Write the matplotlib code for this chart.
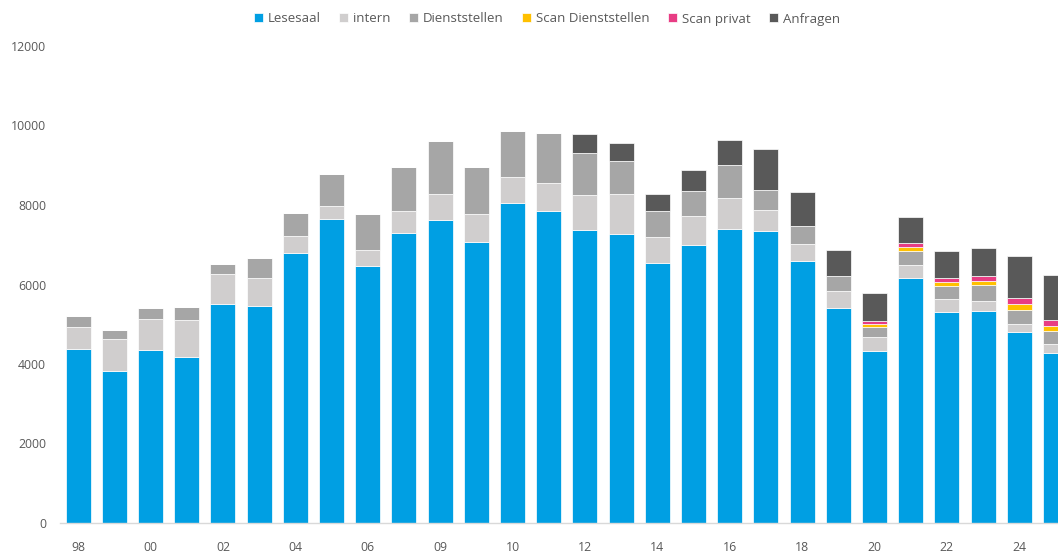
import matplotlib
matplotlib.use("Agg")
import matplotlib.pyplot as plt
import numpy as np

plt.rcParams['font.family'] = ['Open Sans', 'DejaVu Sans']

categories = ['98', '99', '00', '01', '02', '03', '04', '05', '06', '07', '09', '09',
              '10', '11', '12', '13', '14', '15', '16', '17', '18', '19', '20', '21',
              '22', '23', '24', '25']

lesesaal = [4370, 3830, 4345, 4185, 5500, 5460, 6790, 7650, 6475, 7305, 7615, 7070,
            8040, 7840, 7370, 7280, 6550, 7000, 7395, 7355, 6590, 5415, 4330, 6155,
            5315, 5340, 4800, 4285]
intern = [570, 800, 790, 920, 760, 700, 430, 330, 385, 535, 670, 705,
          655, 720, 870, 990, 635, 730, 770, 520, 435, 420, 345, 330,
          325, 245, 215, 220]
dienststellen = [270, 230, 265, 340, 255, 505, 585, 800, 905, 1115, 1320, 1190,
                 1160, 1260, 1080, 845, 670, 620, 840, 505, 455, 380, 250, 370,
                 325, 410, 345, 320]
scan_dienststellen = [0, 0, 0, 0, 0, 0, 0, 0, 0, 0, 0, 0,
                      0, 0, 0, 0, 0, 0, 0, 0, 0, 0, 70, 90,
                      90, 100, 150, 135]
scan_privat = [0, 0, 0, 0, 0, 0, 0, 0, 0, 0, 0, 0,
               0, 0, 0, 0, 0, 0, 0, 0, 0, 0, 75, 100,
               100, 110, 160, 150]
anfragen = [0, 0, 0, 0, 0, 0, 0, 0, 0, 0, 0, 0,
            0, 0, 455, 455, 430, 540, 620, 1030, 840, 645, 705, 645,
            695, 715, 1055, 1140]

series = [
    ("Lesesaal", lesesaal, "#009FE3"),
    ("intern", intern, "#D0CECE"),
    ("Dienststellen", dienststellen, "#A6A6A6"),
    ("Scan Dienststellen", scan_dienststellen, "#FFC000"),
    ("Scan privat", scan_privat, "#E83D84"),
    ("Anfragen", anfragen, "#595959"),
]

W, H = 1058, 553
fig = plt.figure(figsize=(W / 100, H / 100), dpi=100)
ax = fig.add_axes([60 / W, 30 / H, (W - 60) / W, 477 / H])

x = np.arange(len(categories))
bottom = np.zeros(len(categories))
for name, vals, col in series:
    v = np.array(vals, dtype=float)
    ax.bar(x, v, width=0.69, bottom=bottom, color=col, label=name,
           edgecolor='white', linewidth=0.5)
    bottom += v

ax.set_xlim(-0.5, 27.07)
ax.set_ylim(0, 12000)
ax.set_yticks(np.arange(0, 12001, 2000))
ax.set_xticks(x[::2])
ax.set_xticklabels(categories[::2])

for s in ['top', 'right', 'left']:
    ax.spines[s].set_visible(False)
ax.spines['bottom'].set_color('#D9D9D9')
ax.spines['bottom'].set_linewidth(1.0)
ax.tick_params(axis='both', length=0, colors='#595959', labelsize=8.8)
ax.tick_params(axis='y', pad=10)
ax.tick_params(axis='x', pad=13)

handles, labels = ax.get_legend_handles_labels()
leg = fig.legend(handles, labels, loc='center', bbox_to_anchor=(547 / W, 1 - 19 / H),
                 ncol=6, frameon=False, fontsize=9.5, handlelength=0.65,
                 handleheight=0.65, handletextpad=0.4, columnspacing=1.4,
                 labelcolor='#595959')

fig.savefig("out.png", dpi=100)
